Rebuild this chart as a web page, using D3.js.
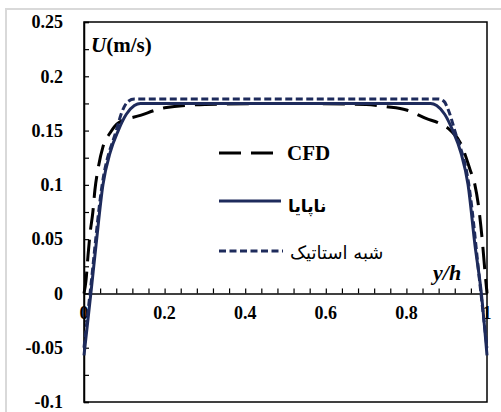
<!DOCTYPE html>
<html><head><meta charset="utf-8">
<script src="https://cdn.jsdelivr.net/npm/d3@7"></script>
<style>body{margin:0;background:#fff}svg{display:block}</style>
</head><body>
<script>
// ---- data ----
const yTicks = [0.25, 0.2, 0.15, 0.1, 0.05, 0, -0.05, -0.1];
const yTickLabels = ["0.25", "0.2", "0.15", "0.1", "0.05", "0", "-0.05", "-0.1"];
const xTicks = [0, 0.2, 0.4, 0.6, 0.8, 1];
const xTickLabels = ["0", "0.2", "0.4", "0.6", "0.8", "1"];
const seriesNames = ["CFD", "ناپایا", "شبه استاتیک"];

const cfdX = [0,0.005,0.01,0.015,0.022,0.027,0.035,0.047,0.065,0.085,0.14,0.2,0.3,0.5,0.7,0.75,0.8,0.85,0.88,0.91,0.935,0.958,0.97,0.978,0.988,0.995,1];
const cfdY = [0,0.012,0.035,0.055,0.075,0.095,0.115,0.135,0.148,0.157,0.164,0.171,0.174,0.175,0.174,0.172,0.169,0.161,0.157,0.15,0.138,0.114,0.1,0.083,0.05,0.02,0];

const unsX = [0,0.017,0.03,0.047,0.065,0.085,0.105,0.125,0.14,0.5,0.86,0.875,0.895,0.915,0.935,0.953,0.97,0.986,1];
const unsY = [-0.057,0,0.045,0.1,0.13,0.15,0.165,0.173,0.175,0.175,0.175,0.173,0.165,0.15,0.13,0.1,0.045,0,-0.057];

const qsX = [0,0.015,0.045,0.08,0.095,0.11,0.125,0.5,0.88,0.893,0.905,0.92,0.955,0.985,1];
const qsY = [-0.05,0,0.1,0.15,0.168,0.177,0.179,0.179,0.179,0.177,0.168,0.15,0.1,0,-0.05];

// ---- layout ----
const W = 501, H = 412;
const L = 84, R = 487, T = 22, B = 402;
const navy = "#1e2b5c";
const serif = "Liberation Serif";

const svg = d3.select("body").append("svg").attr("width", W).attr("height", H);

// outer frame
svg.append("rect").attr("x", 6).attr("y", 9).attr("width", 520).attr("height", 430)
  .attr("fill", "none").attr("stroke", "#d9d9d9").attr("stroke-width", 2);

const x = d3.scaleLinear().domain([0, 1]).range([L, R]);
const y = d3.scaleLinear().domain([-0.1, 0.25]).range([B, T]);

// plot border
svg.append("rect").attr("x", L).attr("y", T).attr("width", R - L).attr("height", B - T)
  .attr("fill", "none").attr("stroke", "#000").attr("stroke-width", 1.5);

// y axis: ticks every 0.025 inward
const yAxis = d3.axisRight(y).tickValues(d3.range(-0.1, 0.2501, 0.025)).tickSize(5).tickFormat("");
svg.append("g").attr("transform", `translate(${L},0)`).call(yAxis)
  .call(g => g.select(".domain").attr("stroke-width", 1.5))
  .call(g => g.selectAll(".tick line").attr("stroke-width", 1.2));

// y labels
svg.append("g").selectAll("text").data(yTicks).join("text")
  .attr("x", 63).attr("y", d => y(d)).attr("dy", "0.35em")
  .attr("text-anchor", "end").attr("font-family", serif).attr("font-weight", "bold")
  .attr("font-size", 18).text((d, i) => yTickLabels[i]);

// x axis at zero: ticks every 0.04 pointing up
const xAxis = d3.axisTop(x).tickValues(d3.range(0, 1.0001, 0.04)).tickSize(5).tickFormat("").tickSizeOuter(0);
svg.append("g").attr("transform", `translate(0,${y(0)})`).call(xAxis)
  .call(g => g.select(".domain").attr("stroke-width", 1.5))
  .call(g => g.selectAll(".tick line").attr("stroke-width", 1.2));

svg.append("g").selectAll("text").data(xTicks).join("text")
  .attr("x", d => x(d)).attr("y", y(0) + 19).attr("dy", "0.35em")
  .attr("text-anchor", "middle").attr("font-family", serif).attr("font-weight", "bold")
  .attr("font-size", 18).text((d, i) => xTickLabels[i]);

// axis titles
const ut = svg.append("text").attr("x", 91).attr("y", 52).attr("font-family", serif)
  .attr("font-weight", "bold").attr("font-size", 21);
ut.append("tspan").attr("font-style", "italic").text("U");
ut.append("tspan").text("(m/s)");
svg.append("text").attr("x", 433).attr("y", 280).attr("font-family", serif)
  .attr("font-weight", "bold").attr("font-style", "italic").attr("font-size", 22).text("y/h");

// lines
const line = d3.line().x(d => x(d[0])).y(d => y(d[1])).curve(d3.curveMonotoneX);
const series = [
  {xs: cfdX, ys: cfdY, color: "#000", dash: "22,10", w: 3},
  {xs: unsX, ys: unsY, color: navy, dash: null, w: 3},
  {xs: qsX, ys: qsY, color: navy, dash: "7,3.5", w: 3}
];
series.forEach(s => {
  svg.append("path").datum(s.xs.map((v, i) => [v, s.ys[i]]))
    .attr("d", line).attr("fill", "none").attr("stroke", s.color)
    .attr("stroke-width", s.w).attr("stroke-dasharray", s.dash);
});

// legend
const legY = [153, 201, 251];
const legX2 = [280, 281, 283];
series.forEach((s, i) => {
  svg.append("line").attr("x1", 219).attr("x2", legX2[i]).attr("y1", legY[i]).attr("y2", legY[i])
    .attr("stroke", s.color).attr("stroke-width", 3).attr("stroke-dasharray", s.dash);
});
svg.append("text").attr("x", 287).attr("y", legY[0]).attr("dy", "0.35em")
  .attr("font-family", serif).attr("font-weight", "bold").attr("font-size", 21).text(seriesNames[0]);
svg.append("text").attr("x", 288).attr("y", legY[1] + 5).attr("dy", "0.35em")
  .attr("font-family", "DejaVu Sans").attr("font-weight", "bold").attr("font-size", 17).text(seriesNames[1]);
svg.append("text").attr("x", 290).attr("y", legY[2] + 2).attr("dy", "0.35em")
  .attr("font-family", "DejaVu Sans").attr("font-size", 18).text(seriesNames[2]);
</script>
</body></html>
